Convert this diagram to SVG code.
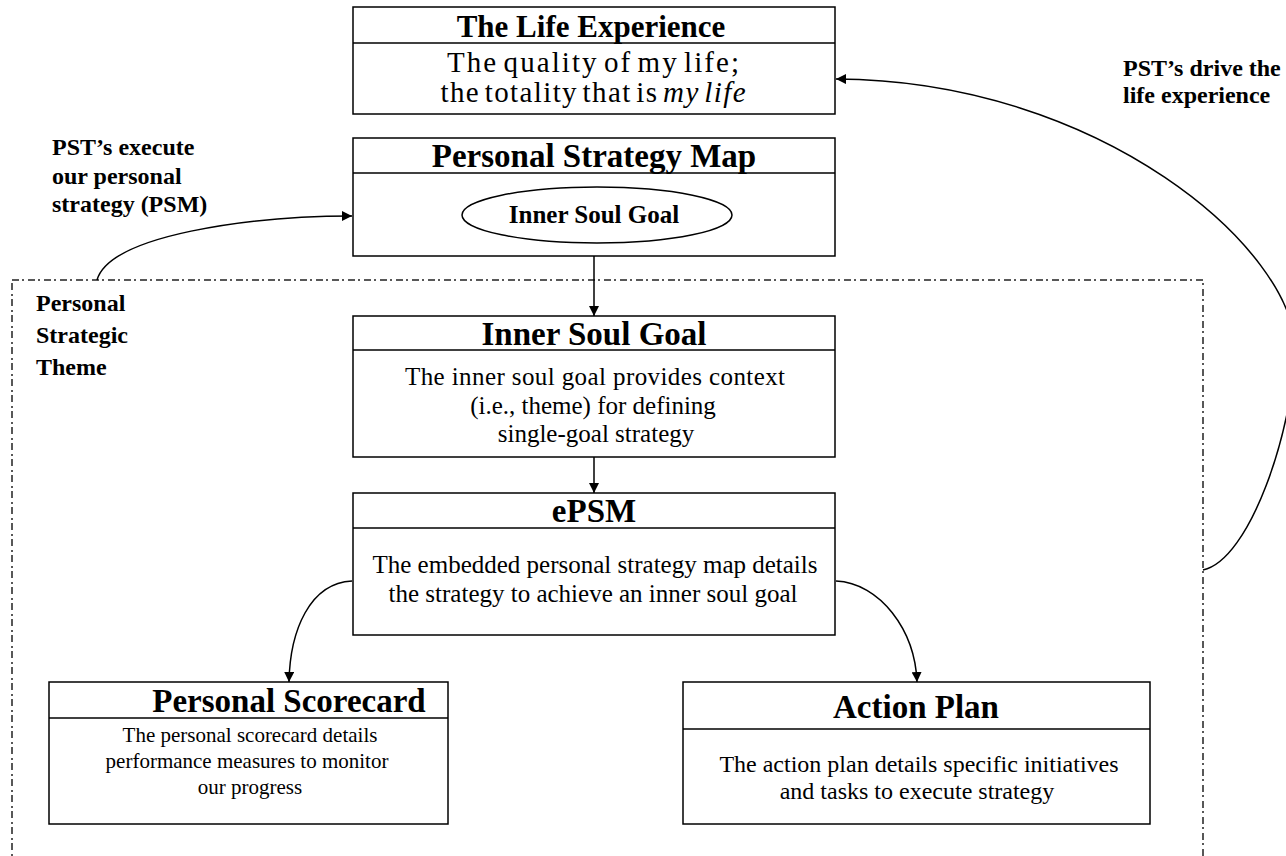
<svg xmlns="http://www.w3.org/2000/svg" width="1286" height="856" viewBox="0 0 1286 856">
<defs>
<marker id="arr" viewBox="0 0 10 10" refX="10" refY="5" markerWidth="10" markerHeight="10" markerUnits="userSpaceOnUse" orient="auto">
<path d="M0,0 L10,5 L0,10 Z" fill="#000"/>
</marker>
<style>
.box{fill:#fff;stroke:#000;stroke-width:1.5}
.hl{stroke:#000;stroke-width:1.5}
.title{font-family:"Liberation Serif","Times New Roman",serif;font-weight:bold;font-size:33px;text-anchor:middle;fill:#000}
.body{font-family:"Liberation Serif","Times New Roman",serif;font-size:25px;text-anchor:middle;fill:#000}
.lbl{font-family:"Liberation Serif","Times New Roman",serif;font-weight:bold;font-size:24px;fill:#000}
.con{fill:none;stroke:#000;stroke-width:1.5}
.frame{fill:none;stroke:#222;stroke-width:1.5;stroke-dasharray:7 3 2 4}
</style>
</defs>
<rect width="1286" height="856" fill="#fff"/>

<g id="theme-frame">
<rect class="frame" x="12" y="280" width="1191" height="590"/>
</g>

<g id="label-psm">
<text class="lbl" x="52" y="155">PST’s execute</text>
<text class="lbl" x="52" y="184">our personal</text>
<text class="lbl" x="52" y="212">strategy (PSM)</text>
</g>
<g id="label-theme">
<text class="lbl" x="36" y="311">Personal</text>
<text class="lbl" x="36" y="343">Strategic</text>
<text class="lbl" x="36" y="375">Theme</text>
</g>
<g id="label-drive">
<text class="lbl" x="1123" y="76">PST’s drive the</text>
<text class="lbl" x="1123" y="103">life experience</text>
</g>

<g id="life-experience">
<rect class="box" x="353" y="7" width="482" height="107"/>
<line class="hl" x1="353" y1="43" x2="835" y2="43"/>
<text class="title" x="591" y="37" style="font-size:31px">The Life Experience</text>
<text class="body" x="593" y="72" style="font-size:29px;word-spacing:-4px" textLength="292" lengthAdjust="spacing">The quality of my life;</text>
<text class="body" x="593" y="102" style="font-size:29px;word-spacing:-4px" textLength="305" lengthAdjust="spacing">the totality that is <tspan font-style="italic">my life</tspan></text>
</g>

<g id="personal-strategy-map">
<rect class="box" x="353" y="138" width="482" height="118"/>
<line class="hl" x1="353" y1="173" x2="835" y2="173"/>
<text class="title" x="594" y="167">Personal Strategy Map</text>
<ellipse cx="597" cy="215" rx="135" ry="28" fill="#fff" stroke="#000" stroke-width="1.5"/>
<text class="lbl" x="594" y="223" text-anchor="middle" style="font-size:25px">Inner Soul Goal</text>
</g>

<g id="inner-soul-goal">
<rect class="box" x="353" y="316" width="482" height="141"/>
<line class="hl" x1="353" y1="350" x2="835" y2="350"/>
<text class="title" x="594" y="345">Inner Soul Goal</text>
<text class="body" x="595" y="385" textLength="380" lengthAdjust="spacing">The inner soul goal provides context</text>
<text class="body" x="593" y="414">(i.e., theme) for defining</text>
<text class="body" x="596" y="442">single-goal strategy</text>
</g>

<g id="epsm">
<rect class="box" x="353" y="493" width="482" height="142"/>
<line class="hl" x1="353" y1="528" x2="835" y2="528"/>
<text class="title" x="594" y="522">ePSM</text>
<text class="body" x="595" y="573">The embedded personal strategy map details</text>
<text class="body" x="593" y="602">the strategy to achieve an inner soul goal</text>
</g>

<g id="personal-scorecard">
<rect class="box" x="49" y="682" width="399" height="142"/>
<line class="hl" x1="49" y1="718" x2="448" y2="718"/>
<text class="title" x="289" y="712">Personal Scorecard</text>
<text class="body" x="250" y="742" style="font-size:21px">The personal scorecard details</text>
<text class="body" x="247" y="768" style="font-size:21px">performance measures to monitor</text>
<text class="body" x="250" y="794" style="font-size:21px">our progress</text>
</g>

<g id="action-plan">
<rect class="box" x="683" y="682" width="467" height="142"/>
<line class="hl" x1="683" y1="729" x2="1150" y2="729"/>
<text class="title" x="916" y="718">Action Plan</text>
<text class="body" x="919" y="772" style="font-size:24px">The action plan details specific initiatives</text>
<text class="body" x="917" y="799" style="font-size:24px">and tasks to execute strategy</text>
</g>

<g id="connectors">
<path class="con" d="M97,280 C110,235 250,216 352,216" marker-end="url(#arr)"/>
<path class="con" d="M1203,570 C1250,560 1293,430 1295,350 C1296,250 1100,80 836,79" marker-end="url(#arr)"/>
<path class="con" d="M594,256 L594,316" marker-end="url(#arr)"/>
<path class="con" d="M594,457 L594,493" marker-end="url(#arr)"/>
<path class="con" d="M352,581 C310,583 290,630 289,682" marker-end="url(#arr)"/>
<path class="con" d="M836,581 C880,583 915,630 917,682" marker-end="url(#arr)"/>
</g>
</svg>
